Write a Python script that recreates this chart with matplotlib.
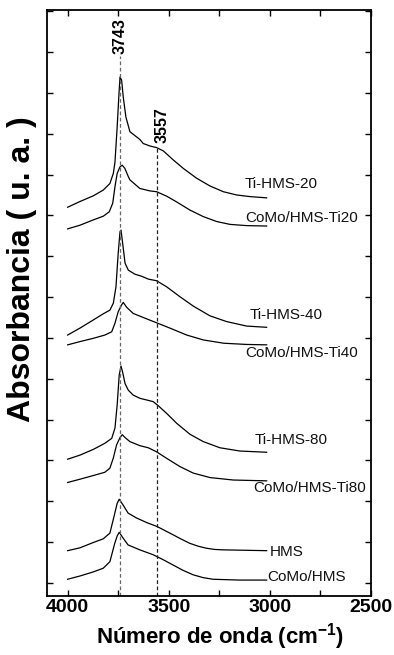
import matplotlib

matplotlib.use("Agg")
import matplotlib.pyplot as plt
from matplotlib.ticker import MultipleLocator, NullFormatter


# FTIR spectra in the OH stretching region, stacked with an offset
ti20_wn = [4000, 3939, 3873, 3824, 3791, 3774, 3766, 3755, 3746, 3741,
           3733, 3725, 3712, 3692, 3643, 3626, 3593, 3560, 3527, 3478,
           3428, 3362, 3296, 3230, 3164, 3098, 3016]
ti20_abs = [9.20, 9.34, 9.48, 9.62, 9.78, 10.03, 10.30, 11.17, 11.99, 12.39,
            12.31, 11.90, 11.41, 11.05, 10.86, 10.76, 10.70, 10.66, 10.58, 10.36,
            10.15, 9.91, 9.72, 9.58, 9.50, 9.46, 9.43]

como_ti20_wn = [4000, 3939, 3873, 3824, 3794, 3777, 3766, 3755, 3741, 3730,
                3717, 3700, 3692, 3643, 3593, 3560, 3510, 3461, 3395, 3329,
                3263, 3197, 3115, 3016]
como_ti20_abs = [8.67, 8.76, 8.89, 8.98, 9.09, 9.30, 9.70, 10.03, 10.19, 10.23,
                 10.15, 9.95, 9.87, 9.66, 9.60, 9.58, 9.47, 9.33, 9.13, 8.97,
                 8.85, 8.78, 8.75, 8.74]

ti40_wn = [4000, 3939, 3873, 3824, 3791, 3774, 3761, 3750, 3741, 3736,
           3728, 3716, 3700, 3667, 3634, 3601, 3560, 3510, 3445, 3379,
           3296, 3214, 3115, 3016]
ti40_abs = [6.07, 6.24, 6.44, 6.59, 6.68, 6.85, 7.25, 8.07, 8.60, 8.64,
            8.32, 7.83, 7.66, 7.56, 7.51, 7.44, 7.40, 7.25, 7.01, 6.78,
            6.54, 6.40, 6.29, 6.26]

como_ti40_wn = [4000, 3939, 3873, 3816, 3782, 3766, 3750, 3733, 3725, 3708,
                3676, 3626, 3560, 3494, 3411, 3329, 3228, 3115, 3016]
como_ti40_abs = [5.83, 5.91, 5.99, 6.07, 6.15, 6.36, 6.64, 6.81, 6.87, 6.75,
                 6.60, 6.50, 6.37, 6.24, 6.07, 5.95, 5.87, 5.84, 5.83]

ti80_wn = [4000, 3939, 3873, 3816, 3782, 3766, 3755, 3745, 3736, 3728,
           3716, 3700, 3676, 3642, 3609, 3577, 3552, 3510, 3461, 3395,
           3329, 3247, 3148, 3016]
ti80_abs = [3.03, 3.13, 3.27, 3.42, 3.54, 3.79, 4.36, 5.09, 5.31, 5.16,
            4.88, 4.72, 4.60, 4.52, 4.48, 4.44, 4.34, 4.15, 3.91, 3.64,
            3.46, 3.31, 3.23, 3.20]

como_ti80_wn = [4000, 3939, 3873, 3816, 3791, 3774, 3758, 3741, 3730, 3716,
                3692, 3642, 3601, 3560, 3510, 3445, 3379, 3296, 3181, 3016]
como_ti80_abs = [2.46, 2.54, 2.63, 2.71, 2.81, 3.06, 3.38, 3.56, 3.63, 3.56,
                 3.46, 3.36, 3.31, 3.21, 3.05, 2.85, 2.69, 2.58, 2.52, 2.50]

hms_wn = [4000, 3939, 3873, 3824, 3791, 3771, 3755, 3745, 3726, 3701,
          3659, 3610, 3557, 3518, 3479, 3437, 3396, 3355, 3314, 3273,
          3232, 3016]
hms_abs = [0.79, 0.86, 0.99, 1.08, 1.22, 1.62, 1.95, 2.05, 1.91, 1.71,
           1.59, 1.48, 1.38, 1.28, 1.18, 1.07, 0.97, 0.90, 0.85, 0.82,
           0.81, 0.79]

como_hms_wn = [4000, 3939, 3873, 3824, 3791, 3767, 3755, 3745, 3726, 3701,
               3643, 3577, 3528, 3479, 3430, 3380, 3330, 3281, 3150, 3016]
como_hms_abs = [0.09, 0.17, 0.27, 0.36, 0.52, 0.97, 1.15, 1.24, 1.10, 0.93,
                0.81, 0.69, 0.57, 0.44, 0.31, 0.20, 0.13, 0.09, 0.07, 0.07]

sample_names = ["Ti-HMS-20", "CoMo/HMS-Ti20", "Ti-HMS-40", "CoMo/HMS-Ti40",
                "Ti-HMS-80", "CoMo/HMS-Ti80", "HMS", "CoMo/HMS"]

band_positions = [3743, 3557]

# where each sample name sits (wavenumber, offset absorbance)
name_pos = [(3123, 9.77), (3123, 8.94), (3098, 6.56), (3123, 5.63),
            (3074, 3.50), (3084, 2.33), (3000, 0.76), (3014, 0.15)]


plt.rcParams["font.family"] = ["Liberation Sans", "DejaVu Sans"]
plt.rcParams["mathtext.fontset"] = "custom"
plt.rcParams["mathtext.rm"] = "Liberation Sans"
plt.rcParams["mathtext.bf"] = "Liberation Sans:bold"

fig = plt.figure(figsize=(3.94, 6.55), dpi=100)
ax = fig.add_axes([47 / 394, 1 - 596 / 655, 324 / 394, 586 / 655])

spectra = [
    (ti20_wn, ti20_abs),
    (como_ti20_wn, como_ti20_abs),
    (ti40_wn, ti40_abs),
    (como_ti40_wn, como_ti40_abs),
    (ti80_wn, ti80_abs),
    (como_ti80_wn, como_ti80_abs),
    (hms_wn, hms_abs),
    (como_hms_wn, como_hms_abs),
]

for (wn, ab), name, (tx, ty) in zip(spectra, sample_names, name_pos):
    ax.plot(wn, ab, color="black", linewidth=0.9, solid_joinstyle="round")
    ax.text(tx, ty, name, fontsize=11, color="#111111",
            ha="left", va="center")

ymin, ymax = -0.32, 14.03

# marker lines for the two OH bands
ax.plot([band_positions[0]] * 2, [ymin, 12.9], color="#666666",
        linewidth=0.9, linestyle=(0, (3, 2)))
ax.plot([band_positions[1]] * 2, [ymin, 10.66], color="#222222",
        linewidth=0.9, linestyle=(0, (3, 2)))

ax.text(3739, 13.39, str(band_positions[0]), rotation=90, fontsize=11.5,
        fontweight="bold", ha="center", va="center")
ax.text(3534, 11.21, str(band_positions[1]), rotation=90, fontsize=11.5,
        fontweight="bold", ha="center", va="center")

ax.set_xlim(4102, 2500)
ax.set_ylim(ymin, ymax)

ax.xaxis.set_major_locator(MultipleLocator(500))
ax.xaxis.set_minor_locator(MultipleLocator(250))
ax.yaxis.set_major_locator(MultipleLocator(1))
ax.yaxis.set_major_formatter(NullFormatter())

ax.tick_params(which="both", direction="in", length=4, width=1,
               top=True, right=True, pad=2)
ax.tick_params(axis="x", labelsize=14)
for lab in ax.get_xticklabels():
    lab.set_fontweight("bold")

for spine in ax.spines.values():
    spine.set_linewidth(1.3)

fig.text(22 / 394, 1 - 269 / 655, "Absorbancia ( u. a. )", rotation=90,
         fontsize=23, fontweight="bold", ha="center", va="center")
fig.text(220 / 394, 1 - 637 / 655, r"Número de onda (cm$^{\mathbf{-1}}$)",
         fontsize=16, fontweight="bold", ha="center", va="center")

fig.savefig("out.png", dpi=100)
plt.close(fig)
